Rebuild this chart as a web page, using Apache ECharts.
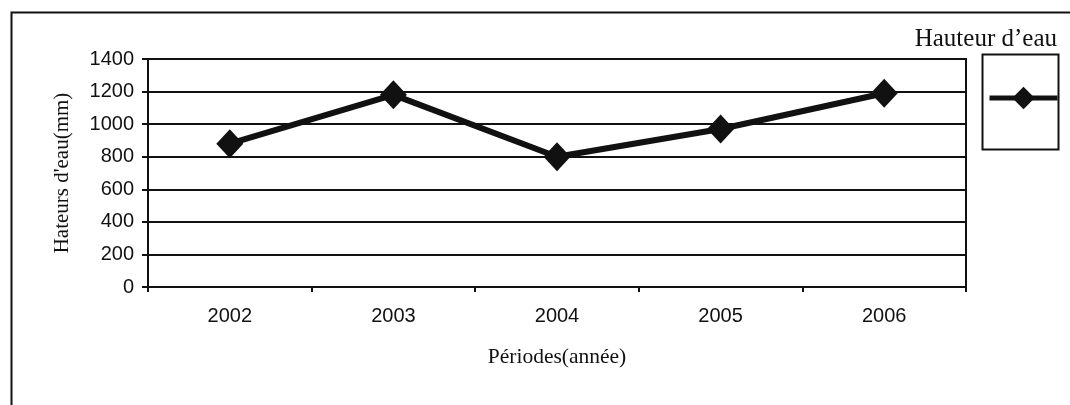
<!DOCTYPE html>
<html>
<head>
<meta charset="utf-8">
<script src="https://cdn.jsdelivr.net/npm/echarts@6/dist/echarts.min.js"></script>
<style>
html,body{margin:0;padding:0;background:#fff;}
#chart{width:1070px;height:405px;}
</style>
</head>
<body>
<div id="chart"></div>
<script>
const categories = ['2002', '2003', '2004', '2005', '2006'];
const seriesName = 'Hauteur d\u2019eau';
const values = [880, 1180, 800, 970, 1190];
const yTicks = { min: 0, max: 1400, interval: 200 };
const xAxisName = 'Périodes(année)';
const yAxisName = 'Hateurs d\'eau(mm)';

const ink = '#111';
const chart = echarts.init(document.getElementById('chart'));
chart.setOption({
  animation: false,
  backgroundColor: '#fff',
  title: {
    text: seriesName,
    right: 8,
    top: 22,
    textStyle: { fontFamily: 'Liberation Serif', fontSize: 25, fontWeight: 'normal', color: ink }
  },
  graphic: [
    { type: 'rect', left: 9, top: 10, shape: { width: 1100, height: 450 }, style: { fill: 'none', stroke: ink, lineWidth: 2 }, silent: true },
    { type: 'rect', left: 980, top: 52, shape: { width: 76, height: 95 }, style: { fill: 'none', stroke: ink, lineWidth: 2 }, silent: true }
  ],
  legend: {
    left: 987,
    top: 84,
    itemWidth: 68,
    itemHeight: 28,
    itemGap: 0,
    padding: 0,
    formatter: () => '',
    lineStyle: { width: 5, color: ink },
    data: [seriesName]
  },
  grid: {
    left: 148, top: 59, right: 104, bottom: 118,
    show: true, borderColor: ink, borderWidth: 2, backgroundColor: 'transparent'
  },
  xAxis: {
    type: 'category',
    data: categories,
    boundaryGap: true,
    name: xAxisName,
    nameLocation: 'middle',
    nameGap: 59,
    nameTextStyle: { fontFamily: 'Liberation Serif', fontSize: 21.5, color: ink },
    axisLine: { lineStyle: { color: ink, width: 2 } },
    axisTick: { show: true, length: 5, alignWithLabel: false, lineStyle: { color: ink, width: 2 } },
    axisLabel: { margin: 19, fontFamily: 'Liberation Sans', fontSize: 20, color: ink },
    splitLine: { show: false }
  },
  yAxis: {
    type: 'value',
    min: yTicks.min, max: yTicks.max, interval: yTicks.interval,
    name: yAxisName,
    nameLocation: 'middle',
    nameRotate: 90,
    nameGap: 75,
    nameTextStyle: { fontFamily: 'Liberation Serif', fontSize: 21, color: ink },
    axisLine: { show: true, lineStyle: { color: ink, width: 2 } },
    axisTick: { show: true, length: 6, lineStyle: { color: ink, width: 2 } },
    axisLabel: { margin: 14, fontFamily: 'Liberation Sans', fontSize: 20, color: ink, formatter: v => String(v) },
    splitLine: { show: true, lineStyle: { color: ink, width: 2 } }
  },
  series: [{
    name: seriesName,
    type: 'line',
    data: values,
    symbol: 'diamond',
    symbolSize: [27, 29],
    itemStyle: { color: ink },
    lineStyle: { color: ink, width: 6 }
  }]
});
</script>
</body>
</html>
